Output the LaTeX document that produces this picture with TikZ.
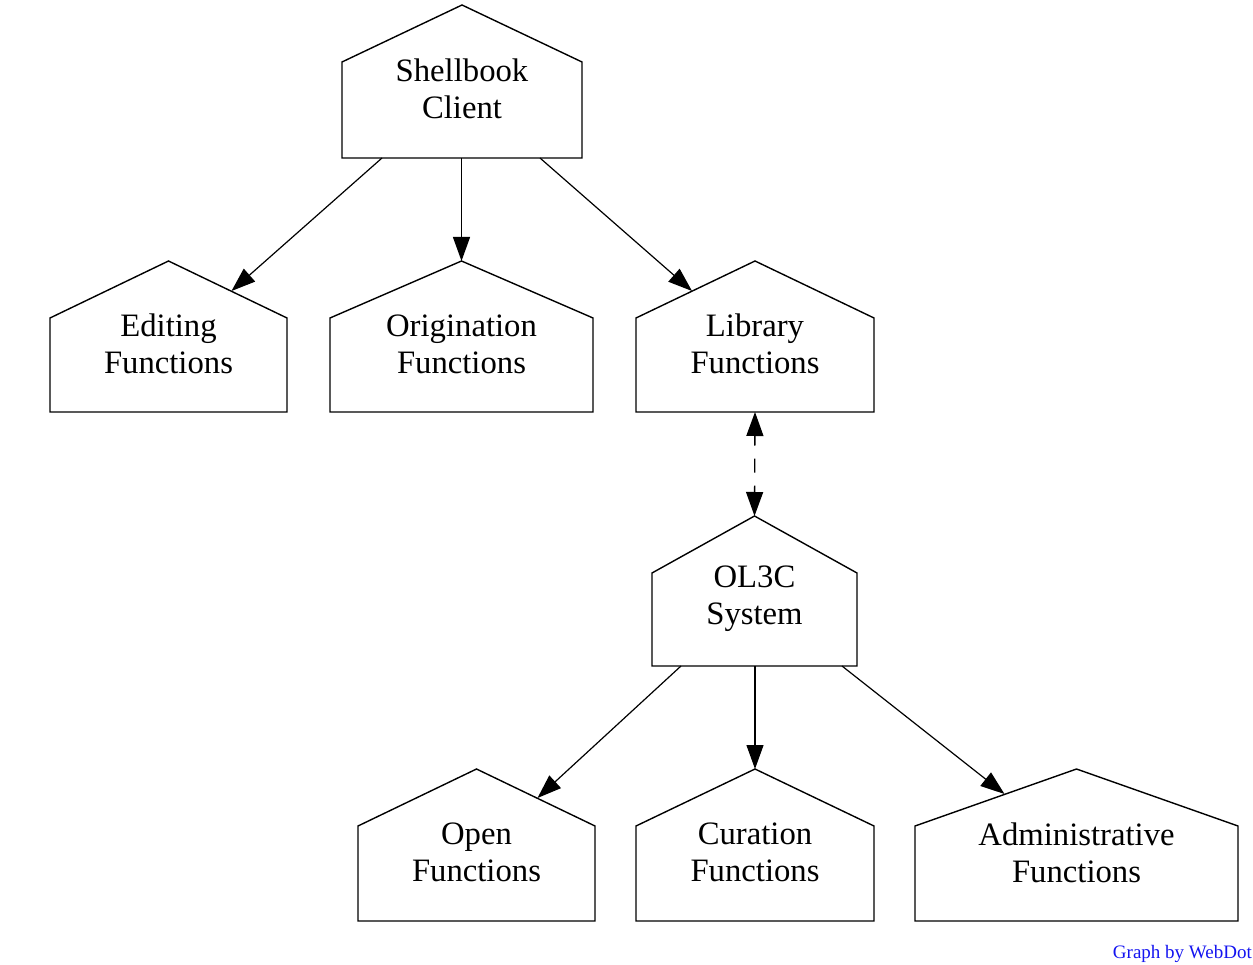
\documentclass[tikz,border=0pt]{standalone}
\usepackage{fontspec}
\setmainfont{Liberation Serif}
\usetikzlibrary{arrows.meta}
\definecolor{webblue}{RGB}{20,20,240}
\newcommand\drawhouse[1]{\draw[houseline] (#1.south west) -- ([yshift=-57pt]#1.north west) -- (#1.north) -- ([yshift=-57pt]#1.north east) -- (#1.south east) -- cycle;}
\tikzset{
  housebox/.style={draw=none, inner sep=0pt, outer sep=0pt},
  houseline/.style={line width=1.4pt, line join=miter},
  housetext/.style={align=center, inner sep=0pt, font=\fontsize{32.7pt}{37pt}\selectfont},
  tip/.style={Triangle[length=24pt,width=17pt]},
  conn/.style={line width=1.2pt, -{Triangle[length=24pt,width=17pt]}},
  dconn/.style={line width=1.3pt, dash pattern=on 14pt off 13pt, dash phase=4pt, {Triangle[length=24pt,width=17pt]}-{Triangle[length=24pt,width=17pt]}},
}
\begin{document}
\begin{tikzpicture}[x=1pt,y=-1pt]
\useasboundingbox (0,0) rectangle (1253,965);
% house boxes
\node[housebox, minimum width=240pt, minimum height=153pt] (shell) at (462,81.5) {};
\node[housebox, minimum width=237pt, minimum height=151pt] (edit) at (168.5,336.5) {};
\node[housebox, minimum width=263pt, minimum height=151pt] (orig) at (461.5,336.5) {};
\node[housebox, minimum width=238pt, minimum height=151pt] (lib) at (755,336.5) {};
\node[housebox, minimum width=205pt, minimum height=150pt] (ol3c) at (754.5,591) {};
\node[housebox, minimum width=237pt, minimum height=152pt] (open) at (476.5,845) {};
\node[housebox, minimum width=238pt, minimum height=152pt] (cur) at (755,845) {};
\node[housebox, minimum width=323pt, minimum height=152pt] (admin) at (1076.5,845) {};
\drawhouse{shell}
\drawhouse{edit}
\drawhouse{orig}
\drawhouse{lib}
\drawhouse{ol3c}
\drawhouse{open}
\drawhouse{cur}
\drawhouse{admin}
% texts
\node[housetext] (shell-t) at ([yshift=-7.5pt]shell.center) {Shellbook\\Client};
\node[housetext] (edit-t) at ([yshift=-7.5pt]edit.center) {Editing\\Functions};
\node[housetext] (orig-t) at ([yshift=-7.5pt]orig.center) {Origination\\Functions};
\node[housetext] (lib-t) at ([yshift=-7.5pt]lib.center) {Library\\Functions};
\node[housetext] (ol3c-t) at ([yshift=-7.5pt]ol3c.center) {OL3C\\System};
\node[housetext] (open-t) at ([yshift=-7.5pt]open.center) {Open\\Functions};
\node[housetext] (cur-t) at ([yshift=-7.5pt]cur.center) {Curation\\Functions};
\node[housetext] (admin-t) at ([yshift=-7.5pt]admin.center) {Administrative\\Functions};
% connectors
\draw[conn] ([xshift=-80pt]shell.south) -- ([xshift=63pt,yshift=-30pt]edit.north);
\draw[conn] ([xshift=-0.5pt]shell.south) -- (orig.north);
\draw[conn] ([xshift=78pt]shell.south) -- ([xshift=-63pt,yshift=-30pt]lib.north);
\draw[dconn] (lib.south) -- (ol3c.north);
\draw[conn] ([xshift=-73.5pt]ol3c.south) -- ([xshift=61pt,yshift=-29pt]open.north);
\draw[conn] ([xshift=0.5pt]ol3c.south) -- (cur.north);
\draw[conn] ([xshift=87.5pt]ol3c.south) -- ([xshift=-72pt,yshift=-25pt]admin.north);
% credit
\node[anchor=base east, inner sep=0pt, text=webblue, font=\fontsize{19pt}{22pt}\selectfont] (credit) at (1252,958) {Graph by WebDot};
\end{tikzpicture}
\end{document}
